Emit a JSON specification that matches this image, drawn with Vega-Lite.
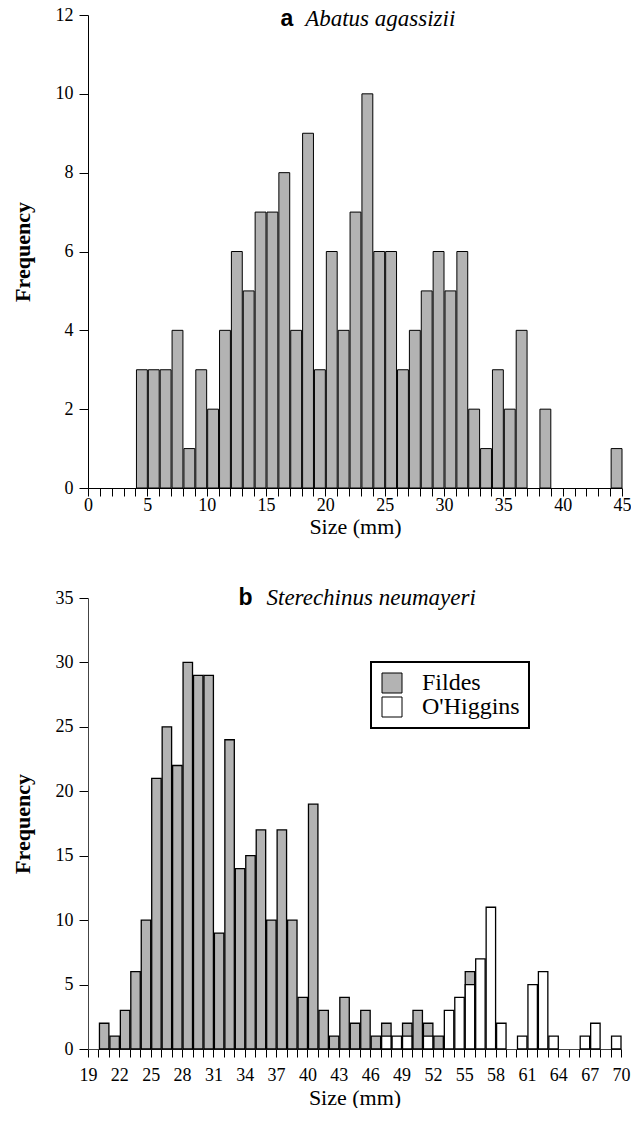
{
  "$schema": "https://vega.github.io/schema/vega-lite/v6.json",
  "padding": {"left": 11, "top": 6, "right": 0, "bottom": 0},
  "background": "white",
  "bounds": "flush",
  "spacing": 110,
  "config": {
    "view": {"stroke": null},
    "axis": {
      "grid": false,
      "domainColor": "black",
      "tickColor": "black",
      "labelColor": "black",
      "titleColor": "black",
      "labelFont": "Liberation Serif",
      "labelFontSize": 18,
      "titleFont": "Liberation Serif",
      "titleFontSize": 22,
      "titleFontWeight": "normal",
      "domainWidth": 1,
      "tickWidth": 1,
      "labelOverlap": false,
      "labelSeparation": 0
    }
  },
  "datasets": {
    "abatus": [
      {"start": 4, "end": 5, "count": 3},
      {"start": 5, "end": 6, "count": 3},
      {"start": 6, "end": 7, "count": 3},
      {"start": 7, "end": 8, "count": 4},
      {"start": 8, "end": 9, "count": 1},
      {"start": 9, "end": 10, "count": 3},
      {"start": 10, "end": 11, "count": 2},
      {"start": 11, "end": 12, "count": 4},
      {"start": 12, "end": 13, "count": 6},
      {"start": 13, "end": 14, "count": 5},
      {"start": 14, "end": 15, "count": 7},
      {"start": 15, "end": 16, "count": 7},
      {"start": 16, "end": 17, "count": 8},
      {"start": 17, "end": 18, "count": 4},
      {"start": 18, "end": 19, "count": 9},
      {"start": 19, "end": 20, "count": 3},
      {"start": 20, "end": 21, "count": 6},
      {"start": 21, "end": 22, "count": 4},
      {"start": 22, "end": 23, "count": 7},
      {"start": 23, "end": 24, "count": 10},
      {"start": 24, "end": 25, "count": 6},
      {"start": 25, "end": 26, "count": 6},
      {"start": 26, "end": 27, "count": 3},
      {"start": 27, "end": 28, "count": 4},
      {"start": 28, "end": 29, "count": 5},
      {"start": 29, "end": 30, "count": 6},
      {"start": 30, "end": 31, "count": 5},
      {"start": 31, "end": 32, "count": 6},
      {"start": 32, "end": 33, "count": 2},
      {"start": 33, "end": 34, "count": 1},
      {"start": 34, "end": 35, "count": 3},
      {"start": 35, "end": 36, "count": 2},
      {"start": 36, "end": 37, "count": 4},
      {"start": 38, "end": 39, "count": 2},
      {"start": 44, "end": 45, "count": 1}
    ],
    "sterechinus": [
      {"site": "Fildes", "start": 20, "end": 21, "count": 2},
      {"site": "Fildes", "start": 21, "end": 22, "count": 1},
      {"site": "Fildes", "start": 22, "end": 23, "count": 3},
      {"site": "Fildes", "start": 23, "end": 24, "count": 6},
      {"site": "Fildes", "start": 24, "end": 25, "count": 10},
      {"site": "Fildes", "start": 25, "end": 26, "count": 21},
      {"site": "Fildes", "start": 26, "end": 27, "count": 25},
      {"site": "Fildes", "start": 27, "end": 28, "count": 22},
      {"site": "Fildes", "start": 28, "end": 29, "count": 30},
      {"site": "Fildes", "start": 29, "end": 30, "count": 29},
      {"site": "Fildes", "start": 30, "end": 31, "count": 29},
      {"site": "Fildes", "start": 31, "end": 32, "count": 9},
      {"site": "Fildes", "start": 32, "end": 33, "count": 24},
      {"site": "Fildes", "start": 33, "end": 34, "count": 14},
      {"site": "Fildes", "start": 34, "end": 35, "count": 15},
      {"site": "Fildes", "start": 35, "end": 36, "count": 17},
      {"site": "Fildes", "start": 36, "end": 37, "count": 10},
      {"site": "Fildes", "start": 37, "end": 38, "count": 17},
      {"site": "Fildes", "start": 38, "end": 39, "count": 10},
      {"site": "Fildes", "start": 39, "end": 40, "count": 4},
      {"site": "Fildes", "start": 40, "end": 41, "count": 19},
      {"site": "Fildes", "start": 41, "end": 42, "count": 3},
      {"site": "Fildes", "start": 42, "end": 43, "count": 1},
      {"site": "Fildes", "start": 43, "end": 44, "count": 4},
      {"site": "Fildes", "start": 44, "end": 45, "count": 2},
      {"site": "Fildes", "start": 45, "end": 46, "count": 3},
      {"site": "Fildes", "start": 46, "end": 47, "count": 1},
      {"site": "Fildes", "start": 47, "end": 48, "count": 2},
      {"site": "Fildes", "start": 49, "end": 50, "count": 2},
      {"site": "Fildes", "start": 50, "end": 51, "count": 3},
      {"site": "Fildes", "start": 51, "end": 52, "count": 2},
      {"site": "Fildes", "start": 52, "end": 53, "count": 1},
      {"site": "Fildes", "start": 55, "end": 56, "count": 6},
      {"site": "O'Higgins", "start": 47, "end": 48, "count": 1},
      {"site": "O'Higgins", "start": 48, "end": 49, "count": 1},
      {"site": "O'Higgins", "start": 49, "end": 50, "count": 1},
      {"site": "O'Higgins", "start": 51, "end": 52, "count": 1},
      {"site": "O'Higgins", "start": 53, "end": 54, "count": 3},
      {"site": "O'Higgins", "start": 54, "end": 55, "count": 4},
      {"site": "O'Higgins", "start": 55, "end": 56, "count": 5},
      {"site": "O'Higgins", "start": 56, "end": 57, "count": 7},
      {"site": "O'Higgins", "start": 57, "end": 58, "count": 11},
      {"site": "O'Higgins", "start": 58, "end": 59, "count": 2},
      {"site": "O'Higgins", "start": 60, "end": 61, "count": 1},
      {"site": "O'Higgins", "start": 61, "end": 62, "count": 5},
      {"site": "O'Higgins", "start": 62, "end": 63, "count": 6},
      {"site": "O'Higgins", "start": 63, "end": 64, "count": 1},
      {"site": "O'Higgins", "start": 66, "end": 67, "count": 1},
      {"site": "O'Higgins", "start": 67, "end": 68, "count": 2},
      {"site": "O'Higgins", "start": 69, "end": 70, "count": 1}
    ]
  },
  "vconcat": [
    {
      "width": 534,
      "height": 473,
      "layer": [
        {
          "data": {"name": "abatus"},
          "mark": {"type": "bar", "fill": "#b3b3b3", "stroke": "black", "strokeWidth": 1},
          "encoding": {
            "x": {
              "field": "start", "type": "quantitative", "bin": "binned",
              "scale": {"domain": [0, 45], "nice": false, "zero": false},
              "axis": {
                "title": "Size (mm)",
                "values": [0,1,2,3,4,5,6,7,8,9,10,11,12,13,14,15,16,17,18,19,20,21,22,23,24,25,26,27,28,29,30,31,32,33,34,35,36,37,38,39,40,41,42,43,44,45],
                "tickCount": 200,
                "format": "d",
                "labelExpr": "datum.value % 5 === 0 ? datum.label : ''",
                "labelOverlap": false,
                "labelSeparation": 0,
                "labelFlush": false,
                "tickSize": 8,
                "labelPadding": 0,
                "titlePadding": 2
              }
            },
            "x2": {"field": "end"},
            "y": {
              "field": "count", "type": "quantitative",
              "scale": {"domain": [0, 12], "nice": false},
              "axis": {
                "title": "Frequency",
                "values": [0, 2, 4, 6, 8, 10, 12],
                "format": "d",
                "tickSize": 9,
                "labelPadding": 6,
                "titleFontWeight": "bold",
                "titlePadding": 21
              }
            }
          }
        },
        {
          "data": {"values": [{}]},
          "mark": {"type": "text", "text": "a", "font": "Liberation Sans", "fontWeight": "bold", "fontSize": 23, "align": "right", "baseline": "alphabetic", "color": "black"},
          "encoding": {
            "x": {"datum": 17.3, "type": "quantitative"},
            "y": {"datum": 11.72, "type": "quantitative"}
          }
        },
        {
          "data": {"values": [{}]},
          "mark": {"type": "text", "text": "Abatus agassizii", "font": "Liberation Serif", "fontStyle": "italic", "fontSize": 23, "align": "left", "baseline": "alphabetic", "color": "black"},
          "encoding": {
            "x": {"datum": 18.3, "type": "quantitative"},
            "y": {"datum": 11.72, "type": "quantitative"}
          }
        }
      ]
    },
    {
      "width": 533,
      "height": 451,
      "layer": [
        {
          "data": {"name": "sterechinus"},
          "transform": [{"filter": "datum.site === 'Fildes'"}],
          "mark": {"type": "bar", "stroke": "black", "strokeWidth": 1.3},
          "encoding": {
            "x": {
              "field": "start", "type": "quantitative", "bin": "binned",
              "scale": {"domain": [19, 70], "nice": false, "zero": false},
              "axis": {
                "title": "Size (mm)",
                "values": [19,20,21,22,23,24,25,26,27,28,29,30,31,32,33,34,35,36,37,38,39,40,41,42,43,44,45,46,47,48,49,50,51,52,53,54,55,56,57,58,59,60,61,62,63,64,65,66,67,68,69,70],
                "tickCount": 200,
                "format": "d",
                "labelExpr": "(datum.value - 19) % 3 === 0 ? datum.label : ''",
                "labelOverlap": false,
                "labelSeparation": 0,
                "labelFlush": false,
                "tickSize": 8,
                "labelPadding": 9,
                "titlePadding": 3,
                "domainColor": "#444"
              }
            },
            "x2": {"field": "end"},
            "y": {
              "field": "count", "type": "quantitative",
              "scale": {"domain": [0, 35], "nice": false},
              "axis": {
                "title": "Frequency",
                "values": [0, 5, 10, 15, 20, 25, 30, 35],
                "format": "d",
                "tickSize": 9,
                "labelPadding": 6,
                "titleFontWeight": "bold",
                "titlePadding": 21,
                "domainColor": "#444"
              }
            },
            "fill": {
              "field": "site", "type": "nominal",
              "scale": {"domain": ["Fildes", "O'Higgins"], "range": ["#b3b3b3", "#ffffff"]},
              "legend": {
                "title": null,
                "orient": "none",
                "legendX": 283,
                "legendY": 647,
                "strokeColor": "black",
                "fillColor": "white",
                "padding": 9,
                "symbolType": "square",
                "symbolSize": 400,
                "symbolStrokeColor": "black",
                "symbolStrokeWidth": 1,
                "labelFont": "Liberation Serif",
                "labelFontSize": 24,
                "labelColor": "black",
                "labelOffset": 18,
                "rowPadding": 0,
                "encode": {"legend": {"update": {"strokeWidth": {"value": 2}}}}
              }
            }
          }
        },
        {
          "data": {"name": "sterechinus"},
          "transform": [{"filter": "datum.site === \"O'Higgins\""}],
          "mark": {"type": "bar", "stroke": "black", "strokeWidth": 1.3},
          "encoding": {
            "x": {"field": "start", "type": "quantitative", "bin": "binned"},
            "x2": {"field": "end"},
            "y": {"field": "count", "type": "quantitative"},
            "fill": {"field": "site", "type": "nominal"}
          }
        },
        {
          "data": {"values": [{}]},
          "mark": {"type": "text", "text": "b", "font": "Liberation Sans", "fontWeight": "bold", "fontSize": 23, "align": "right", "baseline": "alphabetic", "color": "black"},
          "encoding": {
            "x": {"datum": 34.74, "type": "quantitative"},
            "y": {"datum": 34.45, "type": "quantitative"}
          }
        },
        {
          "data": {"values": [{}]},
          "mark": {"type": "text", "text": "Sterechinus neumayeri", "font": "Liberation Serif", "fontStyle": "italic", "fontSize": 23, "align": "left", "baseline": "alphabetic", "color": "black"},
          "encoding": {
            "x": {"datum": 36.08, "type": "quantitative"},
            "y": {"datum": 34.45, "type": "quantitative"}
          }
        }
      ]
    }
  ]
}
